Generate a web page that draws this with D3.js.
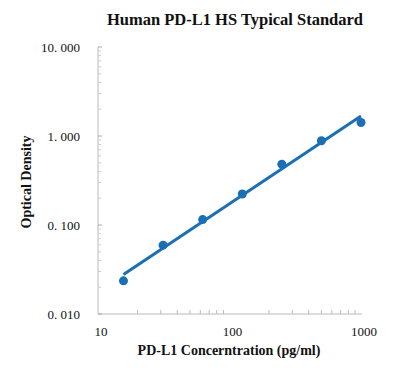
<!DOCTYPE html>
<html>
<head>
<meta charset="utf-8">
<script src="https://cdn.jsdelivr.net/npm/d3@7"></script>
<style>
	body { margin: 0; background: #fff; }
	svg text { font-family: "Liberation Serif", "Times New Roman", serif; fill: #111; }
</style>
</head>
<body>
<svg id="chart" width="395" height="375"></svg>
<script>
// standard curve readings
var concentrations = [15.625, 31.25, 62.5, 125, 250, 500, 1000];
var od_values = [0.0236, 0.0594, 0.115, 0.223, 0.483, 0.885, 1.42];
var x_ticks = [10, 100, 1000];
var y_ticks = [0.01, 0.1, 1, 10];

var blue = "#1a6fb5";
var svg = d3.select("#chart");

var plot_left = 98, plot_right = 361, plot_top = 47, plot_bottom = 314;

var x = d3.scaleLog().domain([10, 1000]).range([plot_left, plot_right]);
var y = d3.scaleLog().domain([0.01, 10]).range([plot_bottom, plot_top]);

// minor ticks for each decade
function minor_ticks(lo, hi){
	var out = [];
	for (var d = lo; d < hi * 0.999; d *= 10){
		for (var k = 2; k <= 9; k++) out.push(d * k);
	}
	return out;
}

// x axis
svg.append("line")
	.attr("x1", plot_left).attr("x2", plot_right + 1)
	.attr("y1", plot_bottom).attr("y2", plot_bottom)
	.attr("stroke", "#bbb").attr("stroke-width", 1);
svg.selectAll(".xminor").data(minor_ticks(10, 1000)).enter()
	.append("line")
	.attr("x1", function(d){ return x(d); })
	.attr("x2", function(d){ return x(d); })
	.attr("y1", plot_bottom).attr("y2", plot_bottom - 4)
	.attr("stroke", "#bbb");
svg.selectAll(".xlab").data(x_ticks).enter()
	.append("text")
	.attr("x", function(d){ return x(d) + 3; })
	.attr("y", 336)
	.attr("text-anchor", "middle")
	.attr("font-size", 13)
	.text(function(d){ return d; });

// y axis
svg.append("line")
	.attr("x1", plot_left).attr("x2", plot_left)
	.attr("y1", plot_top).attr("y2", plot_bottom)
	.attr("stroke", "#bbb").attr("stroke-width", 1);
svg.selectAll(".ymajor").data(y_ticks).enter()
	.append("line")
	.attr("x1", plot_left).attr("x2", plot_left + 4)
	.attr("y1", function(d){ return y(d); })
	.attr("y2", function(d){ return y(d); })
	.attr("stroke", "#aaa");
svg.selectAll(".yminor").data(minor_ticks(0.01, 10)).enter()
	.append("line")
	.attr("x1", plot_left).attr("x2", plot_left + 3)
	.attr("y1", function(d){ return y(d); })
	.attr("y2", function(d){ return y(d); })
	.attr("stroke", "#ccc");
svg.selectAll(".ylab").data(y_ticks).enter()
	.append("text")
	.attr("x", 80)
	.attr("y", function(d){ return y(d) + 4.5; })
	.attr("text-anchor", "end")
	.attr("font-size", 13)
	.text(function(d){ return d3.format(".3f")(d).replace(".", ". "); });

// power trendline, least squares in log-log space
var lx = concentrations.map(Math.log10);
var ly = od_values.map(Math.log10);
var mx = d3.mean(lx), my = d3.mean(ly);
var slope = d3.sum(lx, function(v, i){ return (v - mx) * (ly[i] - my); }) /
	d3.sum(lx, function(v){ return (v - mx) * (v - mx); });
var fit = function(c){ return Math.pow(10, my + slope * (Math.log10(c) - mx)); };
var ends = [concentrations[0], concentrations[concentrations.length - 1]];

svg.append("line")
	.attr("x1", x(ends[0])).attr("y1", y(fit(ends[0])))
	.attr("x2", x(ends[1])).attr("y2", y(fit(ends[1])))
	.attr("stroke", blue).attr("stroke-width", 3);

svg.selectAll(".pt").data(concentrations).enter()
	.append("circle")
	.attr("cx", function(d){ return x(d); })
	.attr("cy", function(d, i){ return y(od_values[i]); })
	.attr("r", 4.5)
	.attr("fill", blue);

// titles
svg.append("text")
	.attr("x", 235).attr("y", 25)
	.attr("text-anchor", "middle")
	.attr("font-size", 16.5).attr("font-weight", "bold")
	.text("Human PD-L1 HS Typical Standard");
svg.append("text")
	.attr("x", 229).attr("y", 355)
	.attr("text-anchor", "middle")
	.attr("font-size", 14).attr("font-weight", "bold")
	.text("PD-L1 Concerntration (pg/ml)");
svg.append("text")
	.attr("transform", "translate(31,182) rotate(-90)")
	.attr("text-anchor", "middle")
	.attr("font-size", 14).attr("font-weight", "bold")
	.text("Optical Density");
</script>
</body>
</html>
